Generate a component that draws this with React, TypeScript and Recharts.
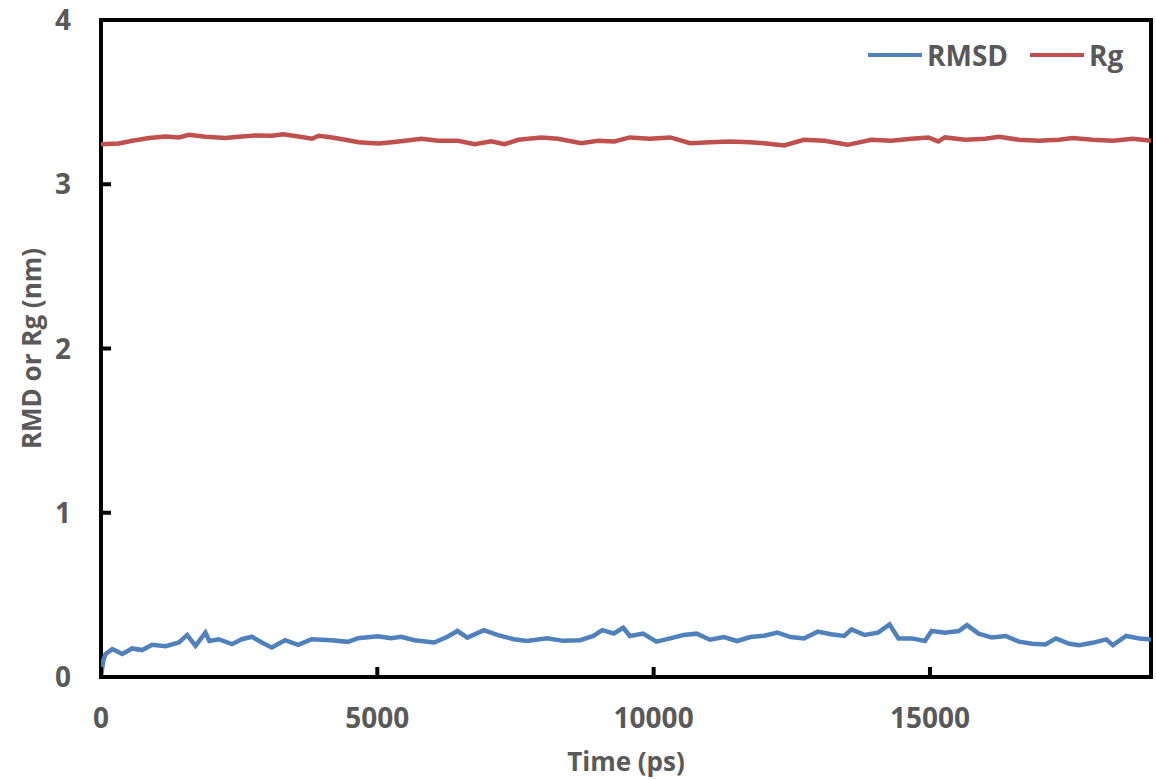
import React from 'react';
import {
  Label,
  Legend,
  Line,
  LineChart,
  ReferenceArea,
  XAxis,
  YAxis,
} from 'recharts';

// values
const rmsdTime = [
  0, 40, 85, 205, 385, 565, 745, 925, 1170, 1410, 1560, 1710, 1890, 1960, 2130, 2370, 2550, 2730,
  2910, 3090, 3330, 3570, 3810, 4170, 4470, 4650, 5010, 5250, 5430, 5670, 6030, 6270, 6450, 6630,
  6930, 7170, 7470, 7710, 8070, 8370, 8670, 8910, 9070, 9280, 9450, 9570, 9810, 10050, 10300,
  10540, 10780, 11020, 11270, 11510, 11750, 12000, 12240, 12480, 12720, 12970, 13210, 13450,
  13580, 13820, 14060, 14270, 14430, 14670, 14910, 15030, 15270, 15520, 15670, 15880, 16120,
  16370, 16610, 16850, 17090, 17280, 17520, 17700, 17940, 18190, 18310, 18550, 18790, 19000,
];
const rmsdValues = [
  0.0, 0.1, 0.14, 0.17, 0.14, 0.174, 0.164, 0.196, 0.188, 0.21, 0.256, 0.19, 0.27, 0.22, 0.23, 0.2,
  0.23, 0.245, 0.21, 0.18, 0.224, 0.196, 0.23, 0.224, 0.214, 0.236, 0.248, 0.236, 0.245, 0.224,
  0.21, 0.245, 0.28, 0.24, 0.285, 0.256, 0.23, 0.22, 0.236, 0.22, 0.224, 0.25, 0.285, 0.265, 0.3,
  0.25, 0.264, 0.215, 0.235, 0.256, 0.264, 0.227, 0.243, 0.219, 0.243, 0.251, 0.27, 0.243, 0.235,
  0.276, 0.26, 0.25, 0.29, 0.256, 0.27, 0.32, 0.235, 0.235, 0.219, 0.28, 0.27, 0.28, 0.316, 0.264,
  0.24, 0.25, 0.215, 0.202, 0.198, 0.235, 0.202, 0.194, 0.208, 0.229, 0.194, 0.25, 0.235, 0.229,
];

const rgTime = [
  0, 325, 565, 870, 1170, 1410, 1590, 1890, 2250, 2490, 2790, 3090, 3300, 3570, 3820, 3940, 4180,
  4420, 4660, 5020, 5260, 5500, 5800, 6100, 6460, 6760, 7060, 7300, 7550, 7970, 8270, 8690, 8990,
  9290, 9570, 9930, 10300, 10660, 11020, 11390, 11750, 12000, 12360, 12720, 13090, 13510, 13940,
  14300, 14670, 14970, 15150, 15270, 15640, 16000, 16250, 16610, 16970, 17340, 17580, 17940,
  18310, 18670, 19000,
];
const rgValues = [
  3.244, 3.248, 3.265, 3.281, 3.291, 3.285, 3.301, 3.289, 3.281, 3.289, 3.297, 3.295, 3.305, 3.291,
  3.277, 3.295, 3.285, 3.271, 3.256, 3.248, 3.256, 3.265, 3.277, 3.265, 3.265, 3.244, 3.261, 3.244,
  3.271, 3.285, 3.277, 3.25, 3.265, 3.261, 3.285, 3.277, 3.285, 3.25, 3.256, 3.261, 3.256, 3.25,
  3.236, 3.271, 3.265, 3.24, 3.271, 3.265, 3.277, 3.285, 3.261, 3.285, 3.271, 3.277, 3.289, 3.271,
  3.265, 3.271, 3.281, 3.271, 3.265, 3.277, 3.265,
];

const xTicks = [0, 5000, 10000, 15000];
const yTicks = [0, 1, 2, 3, 4];

const rmsdData = rmsdTime.map((t, i) => ({ time: t, value: rmsdValues[i] }));
const rgData = rgTime.map((t, i) => ({ time: t, value: rgValues[i] }));

const FONT = '"Open Sans", sans-serif';
const TEXT_COLOR = '#595959';
const BLUE = '#4F81BD';
const RED = '#C0504D';

// ticks point inward, so draw the mark and the label ourselves
const YTick = (props: any) => {
  const { x, y, payload } = props;
  return (
    <g>
      <line x1={x} x2={x + 10} y1={y} y2={y} stroke="#000" strokeWidth={4} />
      <text x={x - 30} y={y} dy={10} textAnchor="end" fill={TEXT_COLOR}
        style={{ fontFamily: FONT, fontWeight: 700, fontSize: 28 }}>
        {payload.value}
      </text>
    </g>
  );
};

const XTick = (props: any) => {
  const { x, y, payload } = props;
  return (
    <g>
      <line x1={x} x2={x} y1={y} y2={y - 10} stroke="#000" strokeWidth={4} />
      <text x={x} y={y + 51} textAnchor="middle" fill={TEXT_COLOR}
        style={{ fontFamily: FONT, fontWeight: 700, fontSize: 28 }}>
        {payload.value}
      </text>
    </g>
  );
};

const YTitle = (props: any) => {
  const { viewBox } = props;
  const cx = viewBox.x + 31;
  const cy = viewBox.y + viewBox.height / 2;
  return (
    <text x={cx} y={cy} dy={10} textAnchor="middle" transform={`rotate(-90, ${cx}, ${cy})`}
      fill={TEXT_COLOR} style={{ fontFamily: FONT, fontWeight: 700, fontSize: 26 }}>
      RMD or Rg (nm)
    </text>
  );
};

const XTitle = (props: any) => {
  const { viewBox } = props;
  const cx = viewBox.x + viewBox.width / 2;
  return (
    <text x={cx} y={viewBox.y + viewBox.height - 9} textAnchor="middle"
      fill={TEXT_COLOR} style={{ fontFamily: FONT, fontWeight: 700, fontSize: 26 }}>
      Time (ps)
    </text>
  );
};

const LegendBox = () => {
  const item = (name: string, color: string, gap: number) => (
    <div style={{ display: 'flex', alignItems: 'center', marginLeft: gap }}>
      <svg width={54} height={8} style={{ marginRight: 5 }}>
        <line x1={0} x2={54} y1={4} y2={4} stroke={color} strokeWidth={4} />
      </svg>
      <span style={{ fontFamily: FONT, fontWeight: 700, fontSize: 28, color: TEXT_COLOR }}>{name}</span>
    </div>
  );
  return (
    <div style={{ display: 'flex', alignItems: 'center', height: 38, lineHeight: '38px' }}>
      {item('RMSD', BLUE, 0)}
      {item('Rg', RED, 22)}
    </div>
  );
};

export default function App() {
  return (
    <div style={{ position: 'absolute', left: 0, top: 0, width: 1156, height: 780, background: '#fff' }}>
      <LineChart width={1156} height={780} margin={{ top: 20, right: 5, bottom: 0, left: 0 }}>
        <XAxis
          dataKey="time"
          type="number"
          domain={[0, 19000]}
          ticks={xTicks}
          allowDataOverflow
          height={103}
          axisLine={false}
          tickLine={false}
          tickSize={0}
          tickMargin={0}
          tick={<XTick />}
        >
          <Label content={<XTitle />} />
        </XAxis>
        <YAxis
          type="number"
          domain={[0, 4]}
          ticks={yTicks}
          width={101}
          axisLine={false}
          tickLine={false}
          tickSize={0}
          tickMargin={0}
          tick={<YTick />}
        >
          <Label content={<YTitle />} />
        </YAxis>
        <Legend
          layout="horizontal"
          verticalAlign="middle"
          align="center"
          wrapperStyle={{ left: 868, top: 36, width: 280 }}
          content={<LegendBox />}
        />
        <Line data={rmsdData} dataKey="value" name="RMSD" type="linear" stroke={BLUE}
          strokeWidth={4.5} dot={false} isAnimationActive={false} />
        <Line data={rgData} dataKey="value" name="Rg" type="linear" stroke={RED}
          strokeWidth={4.5} dot={false} isAnimationActive={false} />
        <ReferenceArea x1={0} x2={19000} y1={0} y2={4} fill="none" fillOpacity={0}
          stroke="#000" strokeWidth={4} />
      </LineChart>
    </div>
  );
}
